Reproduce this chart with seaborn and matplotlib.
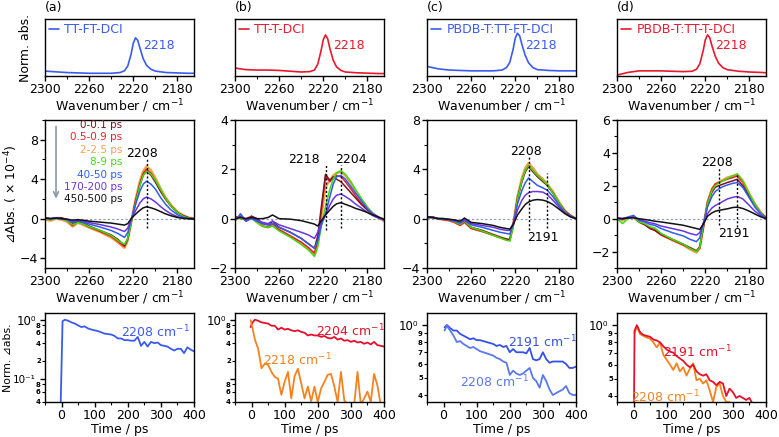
import numpy as np
import pandas as pd
import matplotlib
matplotlib.use("Agg")
import matplotlib.pyplot as plt
import seaborn as sns
from matplotlib.ticker import FixedLocator, FixedFormatter, MultipleLocator, NullLocator, NullFormatter

# ---------------- data ----------------
panel_tags = ["(a)", "(b)", "(c)", "(d)"]
sample_names = ["TT-FT-DCI", "TT-T-DCI", "PBDB-T:TT-FT-DCI", "PBDB-T:TT-T-DCI"]
ftir_peak = 2218

top_wn = [2300, 2290, 2280, 2270, 2260, 2250, 2240, 2232, 2228, 2225, 2222, 2220, 2218,
          2216, 2214, 2211, 2208, 2204, 2200, 2190, 2180, 2170, 2165]
top_a = [0.08, 0.06, 0.04, 0.03, 0.02, 0.02, 0.02, 0.04, 0.09, 0.22, 0.55, 0.85, 1.0,
         0.93, 0.72, 0.42, 0.24, 0.13, 0.08, 0.04, 0.03, 0.02, 0.02]
top_b = [0.15, 0.11, 0.10, 0.10, 0.09, 0.07, 0.05, 0.06, 0.10, 0.25, 0.60, 0.88, 1.0,
         0.90, 0.65, 0.35, 0.18, 0.09, 0.05, 0.03, 0.02, 0.01, 0.01]
top_c = [0.18, 0.12, 0.09, 0.08, 0.07, 0.07, 0.07, 0.09, 0.15, 0.28, 0.60, 0.88, 1.0,
         0.93, 0.72, 0.45, 0.27, 0.15, 0.10, 0.08, 0.07, 0.07, 0.07]
top_d = [-0.04, 0.03, 0.07, 0.07, 0.07, 0.06, 0.05, 0.06, 0.11, 0.25, 0.58, 0.87, 1.0,
         0.93, 0.72, 0.45, 0.27, 0.15, 0.10, 0.06, 0.04, 0.03, 0.02]

delay_labels = ["0-0.1 ps", "0.5-0.9 ps", "2-2.5 ps", "8-9 ps", "40-50 ps", "170-200 ps", "450-500 ps"]

wn = [2300, 2295, 2290, 2285, 2280, 2275, 2270, 2266, 2260, 2250, 2240, 2234, 2228, 2225,
      2222, 2218, 2214, 2211, 2208, 2204, 2200, 2195, 2191, 2186, 2180, 2175, 2170, 2165]

a_0 = [0.1, 0.0, 0.1, 0.1, -0.1, -0.5, -0.3, -0.4, -0.75, -1.2, -1.65, -2.1, -2.7, -2.0, -0.4, 1.7, 3.4, 4.4, 4.8, 4.4, 3.7, 2.7, 2.0, 1.3, 0.6, 0.3, 0.1, 0.0]
a_1 = [0.0, -0.1, 0.1, 0.0, -0.2, -0.7, -0.3, -0.5, -0.85, -1.3, -1.8, -2.3, -2.85, -2.1, -0.4, 1.8, 3.6, 4.6, 5.0, 4.6, 3.9, 2.8, 2.1, 1.3, 0.6, 0.3, 0.1, 0.0]
a_2 = [-0.1, -0.2, 0.0, -0.1, -0.3, -0.8, -0.4, -0.6, -0.9, -1.35, -1.9, -2.4, -2.95, -2.2, -0.4, 1.9, 3.8, 4.8, 5.3, 4.9, 4.1, 3.0, 2.2, 1.4, 0.7, 0.35, 0.1, 0.0]
a_3 = [0.0, -0.1, 0.0, 0.0, -0.2, -0.6, -0.4, -0.5, -0.8, -1.2, -1.7, -2.2, -2.6, -2.0, -0.5, 1.6, 3.4, 4.4, 4.8, 4.5, 3.9, 2.9, 2.1, 1.3, 0.6, 0.25, 0.05, -0.05]
a_4 = [0.05, 0.0, 0.05, 0.0, -0.1, -0.4, -0.2, -0.35, -0.55, -0.85, -1.2, -1.5, -1.9, -1.4, -0.2, 1.4, 2.8, 3.5, 3.8, 3.5, 3.0, 2.1, 1.5, 0.9, 0.4, 0.15, 0.0, -0.05]
a_5 = [0.05, 0.0, 0.05, 0.0, -0.1, -0.3, -0.15, -0.25, -0.4, -0.6, -0.85, -1.05, -1.3, -0.95, -0.1, 0.8, 1.6, 2.0, 2.2, 2.0, 1.7, 1.2, 0.85, 0.5, 0.2, 0.05, 0.0, -0.05]
a_6 = [0.05, 0.0, 0.05, 0.0, -0.05, -0.15, -0.1, -0.15, -0.25, -0.35, -0.45, -0.55, -0.65, -0.5, 0.0, 0.45, 0.85, 1.1, 1.2, 1.1, 0.95, 0.7, 0.5, 0.3, 0.12, 0.03, 0.0, -0.05]

b_0 = [0.0, 0.1, -0.1, 0.1, 0.0, -0.2, -0.25, -0.1, -0.35, -0.55, -0.8, -1.0, -1.2, -0.7, 0.4, 1.8, 1.55, 1.7, 1.6, 1.5, 1.3, 1.05, 0.85, 0.6, 0.35, 0.2, 0.05, -0.05]
b_1 = [0.1, 0.0, 0.0, 0.1, -0.1, -0.3, -0.35, -0.2, -0.45, -0.7, -0.95, -1.15, -1.4, -0.9, 0.2, 1.7, 1.5, 1.65, 1.75, 1.7, 1.5, 1.2, 0.95, 0.65, 0.35, 0.2, 0.05, -0.05]
b_2 = [0.0, 0.05, -0.05, 0.05, -0.15, -0.3, -0.35, -0.25, -0.45, -0.7, -1.0, -1.2, -1.45, -1.0, 0.0, 1.3, 1.55, 1.75, 1.85, 1.9, 1.75, 1.45, 1.15, 0.8, 0.45, 0.2, 0.05, -0.1]
b_3 = [0.0, 0.0, 0.0, 0.0, -0.15, -0.3, -0.35, -0.3, -0.5, -0.75, -1.05, -1.25, -1.53, -1.15, -0.35, 0.5, 1.2, 1.6, 1.85, 1.95, 1.8, 1.5, 1.2, 0.85, 0.45, 0.2, 0.05, -0.05]
b_4 = [-0.1, 0.2, -0.1, 0.0, -0.1, -0.2, -0.25, -0.2, -0.35, -0.55, -0.8, -1.0, -1.2, -0.9, -0.3, 0.2, 0.9, 1.4, 1.7, 1.75, 1.6, 1.3, 1.05, 0.75, 0.4, 0.2, 0.05, -0.05]
b_5 = [0.0, 0.1, -0.05, 0.05, -0.05, -0.15, -0.2, -0.1, -0.25, -0.4, -0.55, -0.65, -0.8, -0.55, -0.15, 0.15, 0.55, 0.8, 0.95, 1.0, 0.9, 0.75, 0.6, 0.45, 0.25, 0.12, 0.02, -0.05]
b_6 = [0.0, 0.05, 0.0, 0.05, 0.0, 0.0, 0.05, 0.15, 0.0, -0.02, -0.08, -0.15, -0.22, -0.3, -0.1, 0.15, 0.35, 0.5, 0.6, 0.65, 0.58, 0.5, 0.42, 0.35, 0.25, 0.15, 0.07, -0.02]

c_0 = [0.1, 0.15, 0.0, 0.0, -0.1, -0.2, -0.4, -0.2, -0.7, -0.95, -1.3, -1.5, -1.65, -1.7, -0.6, 1.6, 3.0, 3.8, 4.2, 3.8, 3.4, 3.0, 2.7, 2.1, 1.2, 0.6, 0.25, 0.0]
c_1 = [0.1, 0.1, 0.0, -0.1, -0.15, -0.3, -0.55, -0.3, -0.8, -1.05, -1.35, -1.55, -1.7, -1.75, -0.6, 1.7, 3.1, 3.9, 4.3, 3.9, 3.5, 3.1, 2.7, 2.1, 1.2, 0.6, 0.25, 0.0]
c_2 = [0.1, 0.1, 0.0, -0.05, -0.15, -0.3, -0.5, -0.25, -0.75, -1.0, -1.3, -1.5, -1.7, -1.75, -0.5, 1.8, 3.3, 4.1, 4.5, 4.1, 3.6, 3.2, 2.8, 2.2, 1.3, 0.65, 0.25, 0.0]
c_3 = [0.1, 0.1, 0.0, 0.0, -0.1, -0.25, -0.45, -0.2, -0.7, -1.0, -1.35, -1.55, -1.75, -1.8, -0.7, 1.6, 3.1, 3.9, 4.3, 3.9, 3.5, 3.1, 2.75, 2.1, 1.2, 0.55, 0.2, 0.0]
c_4 = [0.1, 0.1, 0.0, 0.0, -0.1, -0.2, -0.35, -0.15, -0.5, -0.7, -0.95, -1.1, -1.2, -1.25, -0.5, 1.2, 2.3, 2.9, 3.3, 3.0, 2.7, 2.5, 2.3, 1.8, 1.05, 0.5, 0.2, 0.0]
c_5 = [0.1, 0.1, 0.0, 0.0, -0.05, -0.15, -0.3, -0.1, -0.4, -0.55, -0.7, -0.85, -0.95, -0.95, -0.4, 0.7, 1.5, 1.9, 2.1, 2.2, 2.2, 2.15, 1.95, 1.5, 0.9, 0.45, 0.15, 0.0]
c_6 = [0.15, 0.1, 0.0, 0.0, -0.05, -0.1, -0.2, 0.05, -0.3, -0.4, -0.55, -0.7, -0.8, -0.85, -0.5, 0.3, 0.8, 1.15, 1.35, 1.5, 1.55, 1.5, 1.4, 1.15, 0.75, 0.4, 0.15, 0.0]

d_0 = [0.0, 0.0, 0.05, 0.1, -0.2, -0.35, -0.6, -0.7, -0.95, -1.25, -1.55, -1.75, -1.95, -1.7, -0.6, 0.9, 1.6, 1.9, 2.0, 2.1, 2.2, 2.3, 2.4, 2.0, 1.3, 0.8, 0.35, 0.05]
d_1 = [0.0, -0.05, 0.05, 0.1, -0.2, -0.35, -0.6, -0.7, -1.0, -1.3, -1.6, -1.8, -2.0, -1.8, -0.6, 1.0, 1.8, 2.1, 2.2, 2.3, 2.4, 2.5, 2.6, 2.2, 1.4, 0.85, 0.35, 0.05]
d_2 = [0.0, -0.1, 0.05, 0.1, -0.2, -0.35, -0.55, -0.65, -0.95, -1.3, -1.6, -1.85, -2.05, -1.8, -0.6, 1.0, 1.8, 2.1, 2.2, 2.35, 2.5, 2.6, 2.7, 2.3, 1.5, 0.9, 0.4, 0.05]
d_3 = [0.0, -0.3, 0.0, 0.1, -0.2, -0.3, -0.5, -0.55, -0.9, -1.25, -1.55, -1.8, -2.0, -1.75, -0.5, 0.9, 1.7, 2.0, 2.15, 2.3, 2.45, 2.6, 2.7, 2.3, 1.5, 0.85, 0.35, 0.0]
d_4 = [0.0, 0.0, 0.1, 0.2, -0.1, -0.2, -0.35, -0.4, -0.6, -0.85, -1.05, -1.25, -1.4, -1.15, -0.35, 0.7, 1.35, 1.65, 1.8, 1.95, 2.05, 2.15, 2.2, 1.9, 1.25, 0.7, 0.3, 0.0]
d_5 = [0.0, 0.0, 0.05, 0.1, -0.05, -0.15, -0.25, -0.3, -0.45, -0.6, -0.75, -0.9, -1.0, -0.85, -0.3, 0.3, 0.65, 0.8, 0.9, 1.05, 1.2, 1.3, 1.35, 1.2, 0.8, 0.45, 0.2, 0.0]
d_6 = [0.05, 0.0, 0.05, 0.05, 0.0, -0.05, -0.1, -0.15, -0.2, -0.3, -0.4, -0.5, -0.6, -0.65, -0.35, 0.15, 0.35, 0.45, 0.5, 0.55, 0.6, 0.68, 0.7, 0.62, 0.45, 0.28, 0.12, 0.0]

mid_marks = [[2208], [2218, 2204], [2208, 2191], [2208, 2191]]

nan = np.nan
t = [-3, 3, 10, 20, 30, 40, 50, 60, 70, 80, 90, 100, 110, 120, 130, 140, 150, 160, 170, 180,
     190, 200, 210, 220, 230, 240, 250, 260, 270, 280, 290, 300, 310, 320, 330, 340, 350,
     360, 370, 380, 390, 400]
kin_a_2208 = [0.03, 0.94, 1.0, 0.96, 0.90, 0.86, 0.80, 0.75, 0.77, 0.71, 0.68, 0.66, 0.64, 0.61,
              0.58, 0.57, 0.56, 0.53, 0.48, 0.48, 0.45, 0.45, 0.44, 0.44, 0.51, 0.36, 0.42, 0.35,
              0.42, 0.40, 0.41, 0.37, 0.36, 0.35, 0.32, 0.30, 0.32, 0.32, 0.27, 0.34, 0.31, 0.29]
kin_b_2204 = [0.75, 0.90, 1.0, 0.96, 0.90, 0.88, 0.86, 0.79, 0.79, 0.68, 0.73, 0.68, 0.70, 0.66,
              0.64, 0.66, 0.62, 0.60, 0.54, 0.56, 0.54, 0.54, 0.51, 0.53, 0.49, 0.48, 0.51, 0.46,
              0.48, 0.44, 0.45, 0.42, 0.44, 0.41, 0.42, 0.39, 0.41, 0.38, 0.42, 0.37, 0.36, 0.35]
kin_b_2218 = [0.98, 0.72, 0.46, 0.32, 0.15, 0.18, 0.17, 0.13, 0.107, 0.10, 0.053, 0.088, 0.13,
              0.046, 0.11, 0.147, 0.083, 0.046, 0.073, 0.041, 0.073, 0.04, 0.068, 0.088, 0.116,
              0.12, 0.073, 0.04, 0.13, 0.043, 0.036, 0.036, 0.036, 0.13, 0.036, 0.046, 0.06,
              0.04, 0.12, 0.077, 0.036, 0.036]
kin_c_2191 = [nan, 0.97, 1.0, 0.96, 0.93, 0.93, 0.89, 0.87, 0.85, 0.83, 0.84, 0.82, 0.82, 0.81,
              0.80, 0.79, 0.78, 0.76, 0.77, 0.75, 0.76, 0.70, 0.73, 0.70, 0.70, 0.70, 0.69, 0.74,
              0.64, 0.63, 0.64, 0.70, 0.64, 0.61, 0.62, 0.62, 0.62, 0.62, 0.60, 0.57, 0.57, 0.58]
kin_c_2208 = [nan, 0.93, 0.99, 0.93, 0.87, 0.80, 0.81, 0.78, 0.76, 0.74, 0.75, 0.73, 0.71, 0.70,
              0.69, 0.68, 0.67, 0.65, 0.64, 0.62, 0.61, 0.52, 0.55, 0.53, 0.52, 0.53, 0.55, 0.57,
              0.50, 0.48, 0.44, 0.52, 0.48, 0.43, 0.40, 0.41, 0.42, 0.43, 0.45, 0.41, 0.40, 0.40]
kin_d_2191 = [0.03, 0.93, 1.0, 0.91, 0.88, 0.87, 0.86, 0.83, 0.82, 0.80, 0.76, 0.73, 0.71, 0.70,
              0.67, 0.65, 0.63, 0.60, 0.58, 0.60, 0.55, 0.53, 0.52, 0.53, 0.49, 0.48, 0.46, 0.48,
              0.47, 0.40, 0.44, 0.42, 0.39, 0.40, 0.39, 0.38, 0.39, 0.36, 0.35, 0.34, 0.34, 0.34]
kin_d_2208 = [nan, 0.90, 0.98, 0.89, 0.87, 0.85, 0.84, 0.80, 0.75, 0.80, 0.68, 0.64, 0.60, 0.56,
              0.61, 0.55, 0.58, 0.52, 0.57, 0.61, 0.49, 0.50, 0.47, 0.49, 0.43, 0.37, 0.45, 0.47,
              0.40, 0.37, 0.37, 0.33, 0.33, 0.33, 0.33, 0.33, 0.33, 0.33, 0.33, 0.33, 0.33, 0.33]

# ---------------- style ----------------
sns.set_theme(style="ticks")
plt.rcParams['font.family'] = ['DejaVu Sans']
plt.rcParams.update({
    'axes.linewidth': 1.0, 'axes.edgecolor': 'black', 'axes.labelcolor': 'black',
    'text.color': 'black', 'xtick.color': 'black', 'ytick.color': 'black',
    'xtick.direction': 'out', 'ytick.direction': 'out',
    'xtick.major.size': 3.5, 'ytick.major.size': 3.5,
    'xtick.minor.size': 2.0, 'ytick.minor.size': 2.0,
    'xtick.major.width': 1.0, 'ytick.major.width': 1.0,
    'xtick.minor.width': 0.8, 'ytick.minor.width': 0.8,
    'xtick.major.pad': 1.5, 'ytick.major.pad': 1.5,
    'xtick.minor.pad': 1.5, 'ytick.minor.pad': 1.5,
    'font.size': 9, 'xtick.labelsize': 9, 'ytick.labelsize': 9, 'axes.labelsize': 9,
    'axes.labelpad': 1.0,
})

MAROON = "#7b1322"; RED = "#e8202e"; ORANGE = "#f2a24a"; GREEN = "#3fdc10"
BLUE = "#2f5cf0"; VIOLET = "#6a35e0"; BLACK = "#111111"
TBLUE = "#3b5bf0"; TRED = "#e8192c"; KORANGE = "#f5821f"; KRED = "#e6102a"
delay_colors = [MAROON, RED, ORANGE, GREEN, BLUE, VIOLET, BLACK]

W, H = 779, 437
fig = plt.figure(figsize=(W / 100, H / 100), dpi=100)


def add_ax(x0, x1, y0, y1):
    return fig.add_axes([x0 / W, 1 - y1 / H, (x1 - x0) / W, (y1 - y0) / H])


lefts = [45, 235, 427, 617]
wid = 149
top_axes = [add_ax(l, l + wid, 19, 76) for l in lefts]
mid_axes = [add_ax(l, l + wid, 120, 268) for l in lefts]
bot_axes = [add_ax(l, l + wid, 313, 402) for l in lefts]


def line(ax, x, y, color, lw=1.1, label=None, z=2):
    sns.lineplot(x=x, y=y, ax=ax, color=color, linewidth=lw, estimator=None, sort=False,
                 label=label, legend=False, zorder=z)


# ---------------- top row ----------------
top_data = [top_a, top_b, top_c, top_d]
top_colors = [TBLUE, TRED, TBLUE, TRED]
top_ylims = [(-0.055, 1.52), (-0.053, 1.41), (-0.057, 1.35), (-0.063, 1.41)]
for i, ax in enumerate(top_axes):
    line(ax, top_wn, top_data[i], top_colors[i], lw=1.2, label=sample_names[i])
    ax.set_xlim(2300, 2165)
    ax.set_ylim(*top_ylims[i])
    ax.xaxis.set_major_locator(FixedLocator([2300, 2260, 2220, 2180]))
    ax.xaxis.set_minor_locator(MultipleLocator(20))
    ax.yaxis.set_major_locator(NullLocator())
    ax.set_xlabel("Wavenumber / cm$^{-1}$")
    ax.set_ylabel("")
    leg = ax.legend(loc="upper left", frameon=False, handlelength=0.8, handletextpad=0.4,
                    borderaxespad=0.15, borderpad=0.2, fontsize=9, labelcolor="linecolor")
    ax.text(0.765, 0.54, str(ftir_peak), transform=ax.transAxes, color=top_colors[i],
            ha="center", va="center", fontsize=9)
    ax.text(0.0, 1.2, panel_tags[i], transform=ax.transAxes, ha="left", va="center",
            fontsize=9)
top_axes[0].set_ylabel("Norm. abs.")
top_axes[0].yaxis.set_label_coords(-0.085, 0.5)

# ---------------- middle row ----------------
mid_data = [[a_0, a_1, a_2, a_3, a_4, a_5, a_6],
            [b_0, b_1, b_2, b_3, b_4, b_5, b_6],
            [c_0, c_1, c_2, c_3, c_4, c_5, c_6],
            [d_0, d_1, d_2, d_3, d_4, d_5, d_6]]
mid_ylims = [(-5, 10), (-2, 4), (-4, 8), (-3, 6)]
mid_major = [4, 2, 4, 2]
draw_order = [2, 1, 0, 3, 4, 5, 6]
mark_spans = [[(-0.9, 6.0)], [(-0.46, 2.18), (-0.38, 2.18)],
              [(-0.9, 5.0), (-0.76, 3.7)], [(-0.38, 3.08), (-0.5, 2.8)]]
mark_text_pos = [[(0.65, 0.777)], [(0.466, 0.736), (0.777, 0.736)],
                 [(0.662, 0.784), (0.777, 0.209)], [(0.671, 0.716), (0.785, 0.23)]]
for i, ax in enumerate(mid_axes):
    ax.axhline(0, color="#8a9bb0", lw=0.8, ls=(0, (2, 2)), zorder=1)
    for k in draw_order:
        lw = 1.8 if k == 2 else 1.1
        line(ax, wn, mid_data[i][k], delay_colors[k], lw=lw)
    for m, (y0, y1), (tx, ty) in zip(mid_marks[i], mark_spans[i], mark_text_pos[i]):
        ax.vlines(m, y0, y1, colors="black", linestyles=(0, (1.5, 1.5)), lw=1.0, zorder=5)
        ax.text(tx, ty, str(m), transform=ax.transAxes, ha="center", va="center", fontsize=9)
    ax.set_xlim(2300, 2165)
    ax.set_ylim(*mid_ylims[i])
    ax.xaxis.set_major_locator(FixedLocator([2300, 2260, 2220, 2180]))
    ax.xaxis.set_minor_locator(MultipleLocator(20))
    ax.yaxis.set_major_locator(MultipleLocator(mid_major[i]))
    ax.yaxis.set_minor_locator(MultipleLocator(mid_major[i] / 2))
    ax.set_xlabel("Wavenumber / cm$^{-1}$")
    ax.set_ylabel("")
mid_axes[0].set_ylabel("⊿Abs. ( × 10$^{-4}$)")
mid_axes[0].yaxis.set_label_coords(-0.17, 0.5)

# legend of delays (coloured text) + arrow in panel (a)
leg_y = [0.966, 0.882, 0.799, 0.715, 0.631, 0.547, 0.464]
for lab, col, yy in zip(delay_labels, delay_colors, leg_y):
    mid_axes[0].text(0.52, yy, lab, transform=mid_axes[0].transAxes, color=col,
                     ha="right", va="center", fontsize=7.5)
mid_axes[0].annotate("", xy=(0.074, 0.45), xytext=(0.074, 0.975),
                     xycoords="axes fraction", textcoords="axes fraction",
                     arrowprops=dict(arrowstyle="->", color="#8c9aa6", lw=1.2))

# ---------------- bottom row ----------------
kin_sets = [[(kin_a_2208, TBLUE, "2208")],
            [(kin_b_2204, KRED, "2204"), (kin_b_2218, KORANGE, "2218")],
            [(kin_c_2191, "#3550e8", "2191"), (kin_c_2208, "#5a78f2", "2208")],
            [(kin_d_2208, KORANGE, "2208"), (kin_d_2191, KRED, "2191")]]
kin_text_pos = [[(0.745, 0.787)],
                [(0.777, 0.80), (0.419, 0.47)],
                [(0.777, 0.674), (0.453, 0.225)],
                [(0.327, 0.056), (0.54, 0.56)]]
bot_ylims = [(0.04, 1.3), (0.04, 1.3), (0.365, 1.17), (0.37, 1.17)]
for i, ax in enumerate(bot_axes):
    for (vals, col, lab), (tx, ty) in zip(kin_sets[i], kin_text_pos[i]):
        line(ax, t, vals, col, lw=1.3)
        ax.text(tx, ty, lab + " cm$^{-1}$", transform=ax.transAxes, color=col,
                ha="center", va="center", fontsize=9)
    ax.set_yscale("log")
    ax.set_xlim(-50, 400)
    ax.set_ylim(*bot_ylims[i])
    ax.xaxis.set_major_locator(FixedLocator([0, 100, 200, 300, 400]))
    ax.xaxis.set_minor_locator(MultipleLocator(50))
    if i < 2:
        ax.yaxis.set_major_locator(FixedLocator([0.1, 1.0]))
        ax.yaxis.set_major_formatter(FixedFormatter(["10⁻¹" if i == 0 else "", "10⁰"]))
        ax.yaxis.set_minor_locator(FixedLocator([0.04, 0.06, 0.08, 0.2, 0.4, 0.6, 0.8]))
        ax.yaxis.set_minor_formatter(FixedFormatter(["4", "6", "8", "2", "4", "6", "8"]))
    else:
        ax.yaxis.set_major_locator(FixedLocator([1.0]))
        ax.yaxis.set_major_formatter(FixedFormatter(["10⁰"]))
        ax.yaxis.set_minor_locator(FixedLocator([0.4, 0.5, 0.6, 0.7, 0.8, 0.9]))
        ax.yaxis.set_minor_formatter(FixedFormatter(["4", "5", "6", "7", "8", "9"]))
    ax.tick_params(axis="y", which="minor", labelsize=5, pad=1.0)
    ax.tick_params(axis="y", which="major", pad=3.0, labelsize=8.5)
    for lbl in ax.get_yticklabels(minor=True):
        lbl.set_fontweight("bold")
    ax.set_xlabel("Time / ps")
    ax.set_ylabel("")
# the lower-decade label of panel (a) is set a little smaller, as in the original
bot_axes[0].yaxis.get_major_ticks()[0].label1.set_fontsize(7.5)
bot_axes[0].set_ylabel("Norm. ⊿abs.", fontsize=7.8)
bot_axes[0].yaxis.set_label_coords(-0.2154, 0.5)

fig.savefig("out.png", dpi=100)
